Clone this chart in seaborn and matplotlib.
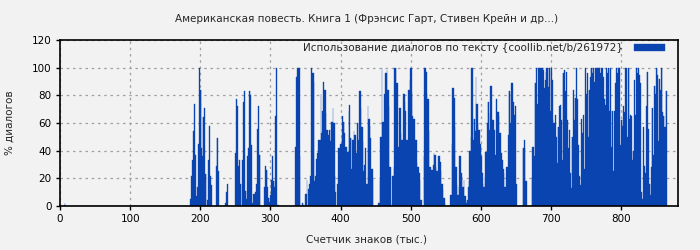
import matplotlib
matplotlib.use("Agg")
import matplotlib.pyplot as plt
import seaborn as sns
import pandas as pd

title = "Американская повесть. Книга 1 (Фрэнсис Гарт, Стивен Крейн и др...)"
legend_label = "Использование диалогов по тексту {coollib.net/b/261972}"
x_label = "Счетчик знаков (тыс.)"
y_label = "% диалогов"
x_ticks = [0, 100, 200, 300, 400, 500, 600, 700, 800]
y_ticks = [0, 20, 40, 60, 80, 100, 120]

# thousands of characters 1..865
thousands = list(range(1, 866))

# units 1..185
dialog_start = [0] * 5 + [1, 2] + [0] * 178
# units 186..865
dialog_main = [
    5, 22, 22, 33, 54, 54, 74, 37, 7, 7,
    14, 45, 45, 100, 84, 84, 42, 36, 64, 64,
    71, 23, 23, 0, 4, 4, 33, 58, 22, 22,
    15, 0, 0, 0, 0, 0, 0, 29, 49, 49,
    25, 0, 0, 0, 0, 0, 0, 0, 0, 0,
    2, 10, 10, 16, 0, 0, 0, 0, 0, 0,
    0, 0, 0, 0, 38, 38, 77, 72, 29, 29,
    33, 16, 16, 0, 33, 33, 75, 83, 11, 11,
    5, 36, 36, 42, 83, 83, 80, 44, 2, 2,
    9, 9, 9, 10, 16, 16, 56, 72, 37, 37,
    0, 0, 0, 0, 0, 0, 14, 29, 26, 26,
    14, 6, 6, 3, 8, 8, 19, 36, 18, 18,
    14, 65, 65, 100, 1, 1, 0, 0, 0, 0,
    0, 0, 0, 0, 0, 0, 0, 0, 0, 0,
    0, 0, 0, 0, 0, 0, 0, 0, 0, 0,
    43, 93, 93, 100, 100, 100, 36, 0, 0, 0,
    2, 1, 1, 0, 9, 9, 19, 0, 12, 12,
    16, 22, 22, 100, 96, 96, 90, 18, 22, 22,
    34, 38, 38, 48, 48, 48, 81, 53, 69, 69,
    90, 84, 84, 67, 55, 55, 21, 51, 55, 55,
    47, 61, 61, 71, 60, 60, 22, 10, 0, 0,
    16, 42, 42, 34, 45, 45, 50, 65, 61, 61,
    53, 43, 43, 28, 39, 39, 69, 73, 49, 49,
    27, 48, 48, 54, 51, 51, 25, 38, 60, 60,
    48, 83, 83, 71, 57, 57, 47, 25, 30, 30,
    42, 16, 16, 72, 63, 63, 58, 49, 27, 27,
    19, 0, 0, 0, 0, 0, 0, 0, 2, 2,
    19, 50, 50, 100, 61, 61, 57, 81, 96, 96,
    98, 84, 84, 72, 28, 28, 2, 0, 22, 22,
    28, 100, 100, 100, 89, 89, 37, 43, 71, 71,
    53, 48, 48, 38, 81, 81, 75, 69, 48, 48,
    30, 84, 84, 91, 100, 100, 81, 65, 63, 63,
    38, 48, 48, 31, 28, 28, 24, 19, 4, 4,
    0, 0, 0, 36, 100, 100, 97, 81, 77, 77,
    54, 28, 28, 14, 26, 26, 30, 38, 37, 37,
    28, 25, 25, 21, 36, 36, 32, 25, 16, 16,
    12, 6, 6, 2, 0, 0, 0, 0, 0, 0,
    1, 8, 8, 45, 85, 85, 78, 57, 28, 28,
    15, 8, 8, 14, 36, 36, 24, 21, 14, 14,
    19, 7, 7, 2, 4, 4, 14, 18, 40, 40,
    50, 100, 100, 48, 63, 63, 54, 93, 74, 74,
    60, 55, 55, 45, 36, 36, 24, 16, 14, 14,
    21, 39, 39, 60, 75, 75, 55, 67, 87, 87,
    55, 62, 62, 55, 37, 37, 77, 69, 68, 68,
    65, 53, 53, 38, 33, 33, 27, 24, 14, 14,
    0, 28, 28, 51, 83, 83, 60, 81, 89, 89,
    75, 66, 66, 72, 16, 16, 0, 0, 0, 0,
    0, 0, 0, 0, 42, 42, 48, 42, 18, 18,
    0, 0, 0, 0, 0, 0, 0, 21, 43, 43,
    36, 89, 89, 100, 74, 74, 100, 40, 100, 100,
    100, 100, 100, 98, 85, 85, 91, 97, 100, 100,
    86, 100, 100, 69, 100, 100, 91, 62, 60, 60,
    66, 50, 50, 31, 57, 57, 72, 73, 62, 62,
    33, 96, 96, 98, 83, 83, 97, 62, 42, 42,
    55, 24, 24, 13, 50, 50, 84, 62, 78, 78,
    100, 77, 77, 44, 22, 22, 15, 63, 53, 53,
    66, 27, 27, 100, 81, 81, 96, 50, 84, 84,
    93, 100, 100, 96, 100, 100, 90, 100, 100, 100,
    100, 100, 100, 100, 96, 96, 100, 100, 93, 93,
    77, 73, 73, 100, 96, 96, 100, 69, 100, 100,
    43, 69, 69, 25, 69, 69, 89, 100, 96, 96,
    100, 100, 100, 44, 62, 62, 58, 72, 68, 68,
    100, 100, 100, 50, 100, 100, 63, 66, 65, 65,
    33, 40, 40, 91, 66, 66, 100, 96, 100, 100,
    95, 89, 89, 10, 5, 5, 57, 29, 24, 24,
    72, 97, 97, 56, 16, 16, 8, 28, 71, 71,
    37, 87, 87, 81, 100, 100, 95, 47, 92, 92,
    84, 100, 100, 68, 65, 65, 57, 57, 83, 83,
]
dialog_pct = dialog_start + dialog_main

BG = "#f2f2f2"
BAR = "#0a44b0"
FS = 7.5

sns.set_style("ticks", {"axes.facecolor": BG, "figure.facecolor": BG})
plt.rcParams["font.family"] = ["DejaVu Sans"]

df = pd.DataFrame({"k": thousands, "pct": dialog_pct})

fig = plt.figure(figsize=(7, 2.5), dpi=100)
ax = fig.add_axes([60 / 700, 1 - 206 / 250, 618 / 700, 166 / 250])

sns.barplot(data=df, x="k", y="pct", native_scale=True, width=1.0,
            color=BAR, saturation=1, errorbar=None, linewidth=0.25,
            edgecolor=BAR, label=legend_label, ax=ax)

ax.set_xlim(0, 881)
ax.set_ylim(0, 120)
ax.set_xticks(x_ticks)
ax.set_yticks(y_ticks)
ax.set_xticklabels([str(t) for t in x_ticks], fontsize=FS)
ax.set_yticklabels([str(t) for t in y_ticks], fontsize=FS)
ax.tick_params(direction="out", length=3, width=1, pad=3, colors="black")
ax.grid(True, color="#a0a0a0", linestyle=(0, (2, 3)), linewidth=0.9)
ax.set_axisbelow(True)
for s in ax.spines.values():
    s.set_visible(True)
    s.set_color("black")
    s.set_linewidth(1.2)

ax.set_xlabel("")
ax.set_ylabel("")
fig.text(367 / 700, 1 - 19 / 250, title, ha="center", va="center", fontsize=FS)
fig.text(367 / 700, 1 - 240 / 250, x_label, ha="center", va="center", fontsize=FS)
fig.text(10 / 700, 1 - 123 / 250, y_label, ha="center", va="center",
         rotation=90, fontsize=FS)

leg = ax.legend(loc="upper right", bbox_to_anchor=(0.979, 0.982),
                frameon=False, markerfirst=False, fontsize=FS,
                handlelength=3.0, handleheight=0.65, borderaxespad=0.0,
                borderpad=0.0, handletextpad=1.0)

fig.savefig("out.png", dpi=100, facecolor=BG)
